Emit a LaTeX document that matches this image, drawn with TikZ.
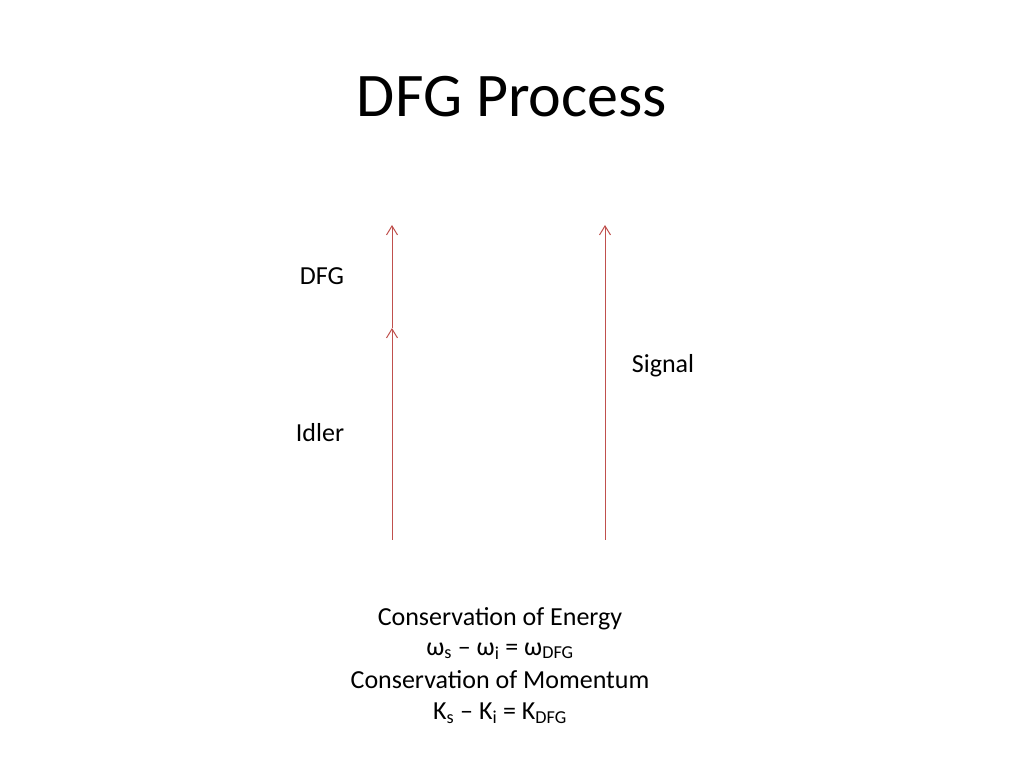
\documentclass[tikz,border=0pt]{standalone}
\usepackage{fontspec}
\setmainfont{Carlito}
\usetikzlibrary{arrows.meta}
\definecolor{beamred}{RGB}{192,80,77}

\begin{document}
\begin{tikzpicture}[x=1pt, y=1pt]

    \tikzset{beam/.style={%
      draw=beamred,%
      line width=1pt,%
      -{Straight Barb[length=9pt, width=11pt]}}%
    };

    \tikzset{label/.style={font=\fontsize{26}{31}\selectfont, inner sep=0pt}};

    \useasboundingbox[fill=white] (0, 0) rectangle (1024, 768);

    %%%%%%%%%
    % title %
    %%%%%%%%%
    \node[font=\fontsize{62}{74}\selectfont] (title) at (512, 671) {DFG Process};

    %%%%%%%%%
    % beams %
    %%%%%%%%%
    \path (392, 228) coordinate (idlerin);
    \path (392, 440) coordinate (idlerout);
    \path (392, 543) coordinate (dfgout);
    \path (605, 228) coordinate (signalin);
    \path (605, 543) coordinate (signalout);

    \draw [beam] (idlerin) -- (idlerout);
    \draw [beam] (idlerout) -- (dfgout);
    \draw [beam] (signalin) -- (signalout);

    \path (322, 492) node [label] (dfg) {DFG};
    \path (320, 335) node [label] (idler) {Idler};
    \path (663, 402) node [label] (signal) {Signal};

    %%%%%%%%%%%%%%%%
    % conservation %
    %%%%%%%%%%%%%%%%
    \path (500, 149) node [label] (energy) {Conservation of Energy};
    \path (500, 117) node [label] (omega) {ω\textsubscript{s} – ω\textsubscript{i} = ω\textsubscript{DFG}};
    \path (500, 88) node [label] (momentum) {Conservation of Momentum};
    \path (500, 55) node [label] (kvec) {K\textsubscript{s} – K\textsubscript{i} = K\textsubscript{DFG}};

\end{tikzpicture}
\end{document}
